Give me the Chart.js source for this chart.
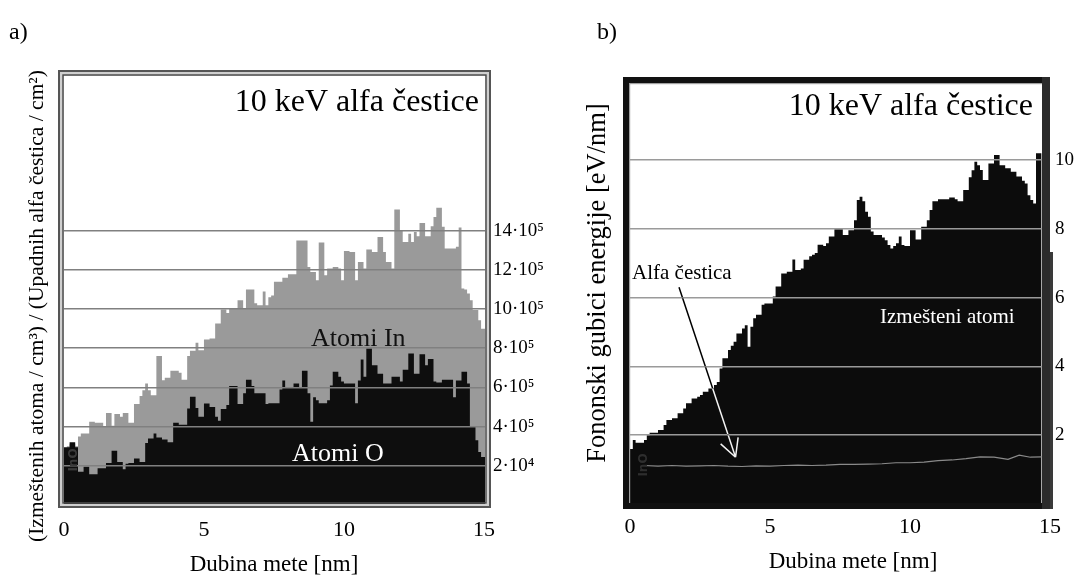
<!DOCTYPE html>
<html>
<head>
<meta charset="utf-8">
<script src="https://cdn.jsdelivr.net/npm/chart.js@4.4.1/dist/chart.umd.min.js"></script>
<style>
  html, body { margin: 0; padding: 0; background: #fff; }
  #wrap { position: relative; width: 1078px; height: 577px; overflow: hidden; }
  canvas { position: absolute; top: 0; }
  #cA { left: 0; }
  #cB { left: 560px; }
</style>
</head>
<body>
<div id="wrap">
  <canvas id="cA" width="560" height="577"></canvas>
  <canvas id="cB" width="518" height="577"></canvas>
</div>
<script>
// Depth histograms, bin width 0.1 nm, starting at 0 nm
const BIN = 0.1;

// a) displaced In atoms (x10^5), bins 0.0 ... 15.0 nm
const inAtoms = [
  3.3, 2.9, 3.0, 3.1, 3.1, 3.0, 3.5, 3.65, 3.65, 3.65,
  4.25, 4.25, 4.2, 4.2, 4.2, 4.0, 4.7, 4.7, 4.05, 4.64,
  4.64, 4.5, 4.7, 4.7, 4.2, 4.2, 5.15, 5.15, 5.56, 5.86,
  6.2, 5.86, 5.6, 5.6, 7.6, 7.6, 6.37, 6.5, 6.5, 6.85,
  6.85, 6.85, 6.75, 6.4, 6.4, 7.6, 7.87, 7.87, 8.28, 7.9,
  7.9, 8.45, 8.45, 8.5, 8.5, 9.27, 9.27, 9.98, 9.98, 9.8,
  10.0, 10.0, 10.0, 10.45, 10.45, 10.0, 11.0, 11.0, 11.0, 10.3,
  10.2, 10.2, 10.9, 10.2, 10.6, 10.7, 11.4, 11.4, 11.4, 11.6,
  11.6, 11.78, 11.78, 11.78, 13.5, 13.5, 13.5, 13.5, 12.15, 11.9,
  11.9, 11.47, 13.4, 13.4, 11.73, 12.07, 12.07, 12.15, 12.15, 12.07,
  11.47, 12.97, 12.97, 12.92, 12.92, 11.47, 12.4, 12.4, 12.07, 13.04,
  13.04, 12.92, 12.92, 13.68, 13.68, 12.92, 12.4, 12.4, 12.07, 15.08,
  15.08, 14.03, 13.43, 13.43, 13.85, 13.43, 13.94, 13.72, 14.4, 14.4,
  13.72, 13.72, 14.23, 14.7, 15.18, 15.18, 14.2, 13.09, 13.09, 13.09,
  13.09, 13.18, 14.16, 11.05, 11.0, 10.8, 10.45, 9.95, 9.95, 9.43,
  9.0
];

// a) displaced O atoms (x10^5)
const oAtoms = [
  2.3, 2.95, 2.95, 3.2, 3.2, 2.95, 1.7, 1.7, 1.95, 1.95,
  1.57, 1.57, 1.57, 1.87, 1.87, 1.87, 2.15, 2.15, 2.77, 2.77,
  2.2, 2.2, 1.83, 2.1, 2.15, 2.15, 2.37, 2.37, 2.2, 2.2,
  3.17, 3.4, 3.4, 3.65, 3.45, 3.45, 3.35, 3.35, 3.2, 3.2,
  4.2, 4.2, 4.1, 4.1, 4.1, 4.93, 5.52, 5.52, 4.95, 4.5,
  4.5, 5.18, 5.18, 5.0, 5.0, 4.5, 4.3, 4.9, 4.9, 5.1,
  6.07, 6.07, 6.07, 5.15, 5.15, 5.7, 6.4, 6.4, 6.07, 5.7,
  5.7, 5.7, 5.7, 5.15, 5.2, 5.2, 5.2, 5.2, 5.9, 6.35,
  6.0, 6.0, 6.0, 6.2, 6.2, 6.0, 6.85, 6.85, 5.7, 4.25,
  5.5, 5.35, 5.2, 5.2, 5.2, 5.35, 6.1, 6.8, 6.8, 6.55,
  6.3, 6.2, 6.2, 6.2, 6.2, 5.2, 6.35, 7.43, 6.55, 7.99,
  7.99, 7.13, 7.13, 6.7, 6.7, 6.2, 6.2, 6.2, 6.55, 6.55,
  6.55, 6.3, 6.9, 6.9, 7.73, 7.73, 6.7, 6.7, 7.7, 7.7,
  7.13, 7.45, 7.45, 6.3, 6.25, 6.25, 6.4, 6.4, 6.4, 6.4,
  5.5, 6.35, 6.35, 6.8, 6.8, 6.2, 4.0, 4.0, 3.3, 2.7,
  2.45
];

// b) phonon energy loss to displaced atoms [eV/nm], bins 0.0 ... 14.6 nm
const displacedLoss = [
  1.3, 1.6, 1.86, 1.78, 1.78, 1.78, 1.86, 2.0, 2.07, 2.07,
  2.07, 2.15, 2.15, 2.3, 2.44, 2.44, 2.49, 2.49, 2.64, 2.64,
  2.78, 2.93, 2.93, 3.07, 3.07, 3.12, 3.17, 3.26, 3.26, 3.36,
  3.36, 3.46, 3.55, 3.94, 4.24, 4.24, 4.48, 4.6, 4.72, 4.96,
  4.96, 5.1, 5.2, 4.57, 5.15, 5.4, 5.5, 5.5, 5.79, 5.83,
  5.83, 5.83, 6.03, 6.32, 6.32, 6.7, 6.7, 6.75, 6.75, 7.11,
  6.8, 6.8, 6.85, 7.1, 7.1, 7.2, 7.25, 7.3, 7.54, 7.54,
  7.5, 7.58, 7.78, 7.78, 7.99, 7.99, 7.99, 7.82, 7.82, 7.96,
  7.96, 8.25, 8.84, 8.93, 8.8, 8.5, 8.35, 7.92, 7.82, 7.82,
  7.82, 7.75, 7.67, 7.53, 7.43, 7.5, 7.58, 7.78, 7.53, 7.5,
  7.5, 7.96, 7.96, 7.69, 7.69, 8.06, 8.06, 8.25, 8.55, 8.8,
  8.8, 8.86, 8.86, 8.86, 8.86, 8.91, 8.91, 8.86, 8.8, 8.8,
  9.13, 9.13, 9.5, 9.7, 9.95, 9.85, 9.71, 9.42, 9.42, 9.9,
  9.9, 10.15, 10.15, 9.85, 9.85, 9.76, 9.76, 9.66, 9.66, 9.52,
  9.52, 9.4, 9.32, 8.98, 8.84, 8.74, 10.2
];

// b) phonon energy loss of the alpha particle itself [eV/nm]
const alphaDepth = [0.5, 1.0, 1.5, 2.0, 2.5, 3.0, 3.5, 4.0, 4.5, 5.0, 5.5, 6.0, 6.5, 7.0, 7.5,
                    8.0, 8.5, 9.0, 9.5, 10.0, 10.5, 11.0, 11.5, 12.0, 12.5, 13.0, 13.5, 13.9, 14.3, 14.7];
const alphaLoss  = [1.12, 1.1, 1.12, 1.1, 1.11, 1.12, 1.1, 1.09, 1.11, 1.1, 1.12, 1.13, 1.12, 1.13, 1.15,
                    1.15, 1.16, 1.17, 1.2, 1.2, 1.22, 1.26, 1.28, 1.32, 1.37, 1.36, 1.3, 1.42, 1.36, 1.37];

// Axis ticks
const xTicks = [0, 5, 10, 15];
const yTicksA = [2, 4, 6, 8, 10, 12, 14];
const yLabelsA = ['2·10⁴', '4·10⁵', '6·10⁵', '8·10⁵', '10·10⁵', '12·10⁵', '14·10⁵'];
const yTicksB = [2, 4, 6, 8, 10];
const yLabelsB = ['2', '4', '6', '8', '10'];

const SERIF = '"Liberation Serif", "Times New Roman", serif';
Chart.defaults.font.family = SERIF;
Chart.defaults.color = '#000';

// Step-histogram points: each bin holds its value from its left edge to the next one
function histogram(values) {
  const pts = values.map((v, i) => ({ x: i * BIN, y: v }));
  pts.push({ x: values.length * BIN, y: values[values.length - 1] });
  return pts;
}

function drawText(ctx, t) {
  ctx.save();
  ctx.font = (t.weight || 'normal') + ' ' + t.size + 'px ' + (t.family || SERIF);
  ctx.fillStyle = t.color || '#000';
  ctx.textAlign = t.align || 'left';
  ctx.textBaseline = t.baseline || 'alphabetic';
  ctx.translate(t.x, t.y);
  if (t.rot) ctx.rotate(t.rot * Math.PI / 180);
  ctx.fillText(t.text, 0, 0);
  ctx.restore();
}

// White paper, then frames, captions and the annotation arrow over the finished chart
function decorPlugin(cfg) {
  return {
    id: 'decor_' + cfg.name,
    beforeDraw(chart) {
      const ctx = chart.ctx;
      ctx.save();
      ctx.fillStyle = '#fff';
      ctx.fillRect(0, 0, chart.width, chart.height);
      ctx.restore();
    },
    afterDraw(chart) {
      const ctx = chart.ctx;
      ctx.save();
      cfg.frame(ctx);
      cfg.texts.forEach(t => drawText(ctx, t));
      if (cfg.arrow) {
        const xs = chart.scales.x, ys = chart.scales.y;
        const p0 = { x: xs.getPixelForValue(cfg.arrow.from[0]), y: ys.getPixelForValue(cfg.arrow.from[1]) };
        const p1 = { x: xs.getPixelForValue(cfg.arrow.to[0]), y: ys.getPixelForValue(cfg.arrow.to[1]) };
        const ang = Math.atan2(p0.y - p1.y, p0.x - p1.x);
        // inverted stroke: black over the paper, white over the filled area
        ctx.globalCompositeOperation = 'difference';
        ctx.strokeStyle = '#fff';
        ctx.lineWidth = 1.5;
        ctx.beginPath();
        ctx.moveTo(p0.x, p0.y);
        ctx.lineTo(p1.x, p1.y);
        [-0.52, 0.45].forEach(d => {
          ctx.moveTo(p1.x, p1.y);
          ctx.lineTo(p1.x + 20 * Math.cos(ang + d), p1.y + 20 * Math.sin(ang + d));
        });
        ctx.stroke();
      }
      ctx.restore();
    }
  };
}

function baseOptions(o) {
  return {
    responsive: false,
    animation: false,
    devicePixelRatio: 1,
    events: [],
    layout: { padding: { left: o.left, top: o.top, right: 0, bottom: 0 } },
    plugins: { legend: { display: false }, tooltip: { enabled: false } },
    scales: {
      x: {
        type: 'linear', min: 0, max: o.xMax,
        afterFit(s) { s.height = o.xAxisHeight; },
        afterBuildTicks(s) { s.ticks = xTicks.map(v => ({ value: v })); },
        grid: { display: false },
        border: { display: false },
        ticks: { autoSkip: false, maxRotation: 0, padding: o.xPad, color: '#000',
                 font: { size: 22 }, callback: v => String(v) }
      },
      y: {
        type: 'linear', position: 'right', min: 0, max: o.yMax,
        afterFit(s) { s.width = o.yAxisWidth; },
        afterBuildTicks(s) { s.ticks = o.yTicks.map(v => ({ value: v })); },
        grid: { color: o.gridColor, lineWidth: 1.6, drawTicks: false, z: 1 },
        border: { display: false },
        ticks: { autoSkip: false, padding: o.yPad, color: '#000', font: { size: 19 },
                 callback: v => o.yLabels[o.yTicks.indexOf(v)] }
      }
    }
  };
}

// ---------- a) displaced In and O atoms ----------
new Chart(document.getElementById('cA'), {
  type: 'line',
  data: {
    datasets: [
      { label: 'Atomi O', data: histogram(oAtoms), stepped: 'after', fill: 'origin',
        backgroundColor: '#0e0e0e', borderWidth: 0, pointRadius: 0 },
      { label: 'Atomi In', data: histogram(inAtoms), stepped: 'after', fill: 'origin',
        backgroundColor: '#9a9a9a', borderWidth: 0, pointRadius: 0 }
    ]
  },
  options: baseOptions({
    left: 64, top: 76, xMax: 15.04, yMax: 21.9, xAxisHeight: 72, yAxisWidth: 75,
    xPad: 4, yPad: 8, yTicks: yTicksA, yLabels: yLabelsA, gridColor: '#808080'
  }),
  plugins: [decorPlugin({
    name: 'a',
    frame(ctx) {
      ctx.lineWidth = 2;
      ctx.strokeStyle = '#555';
      ctx.strokeRect(59, 71, 431, 436);
      ctx.strokeStyle = '#cfcfcf';
      ctx.strokeRect(61, 73, 427, 432);
      ctx.lineWidth = 1.6;
      ctx.strokeStyle = '#4d4d4d';
      ctx.strokeRect(63, 75, 423, 428);
    },
    texts: [
      { text: 'a)', x: 9, y: 39, size: 24 },
      { text: '10 keV alfa čestice', x: 479, y: 111, size: 32, align: 'right' },
      { text: 'Atomi In', x: 311, y: 346, size: 26, color: '#111' },
      { text: 'Atomi O', x: 292, y: 461, size: 26, color: '#fff' },
      { text: 'InO', x: 74, y: 460, size: 12, weight: 'bold', family: '"DejaVu Sans", sans-serif',
        color: '#3a3a3a', rot: -90, align: 'center', baseline: 'middle' },
      { text: '(Izmeštenih atoma / cm³) / (Upadnih alfa čestica / cm²)', x: 37, y: 306, size: 21.5,
        rot: -90, align: 'center', baseline: 'middle' },
      { text: 'Dubina mete [nm]', x: 274, y: 571, size: 23, align: 'center' }
    ]
  })]
});

// ---------- b) phonon energy losses ----------
new Chart(document.getElementById('cB'), {
  type: 'line',
  data: {
    datasets: [
      { label: 'Alfa čestica', data: alphaDepth.map((d, i) => ({ x: d, y: alphaLoss[i] })),
        borderColor: '#8a8a8a', borderWidth: 1.2, pointRadius: 0, fill: false, tension: 0 },
      { label: 'Izmešteni atomi', data: histogram(displacedLoss), stepped: 'after', fill: 'origin',
        backgroundColor: '#0c0c0c', borderWidth: 0, pointRadius: 0 }
    ]
  },
  options: baseOptions({
    left: 70, top: 83, xMax: 15, yMax: 12.24, xAxisHeight: 73, yAxisWidth: 28,
    xPad: 2, yPad: 5, yTicks: yTicksB, yLabels: yLabelsB, gridColor: '#9a9a9a'
  }),
  plugins: [decorPlugin({
    name: 'b',
    frame(ctx) {
      ctx.fillStyle = '#111';
      ctx.fillRect(63, 77, 6, 432);
      ctx.fillRect(63, 77, 419, 6);
      ctx.fillRect(63, 503, 419, 6);
      ctx.fillStyle = '#2b2b2b';
      ctx.fillRect(482, 77, 8, 432);
      ctx.fillStyle = '#3a3a3a';
      ctx.fillRect(490, 252, 3, 257);
      ctx.fillStyle = '#a0a0a0';
      ctx.fillRect(69, 83, 1.2, 420);
      ctx.fillRect(69, 83, 413, 1.2);
    },
    texts: [
      { text: 'b)', x: 37, y: 39, size: 24 },
      { text: '10 keV alfa čestice', x: 473, y: 115, size: 32, align: 'right' },
      { text: 'Alfa čestica', x: 72, y: 279, size: 21 },
      { text: 'Izmešteni atomi', x: 320, y: 323, size: 21, color: '#fff' },
      { text: 'InO', x: 84, y: 465, size: 12, weight: 'bold', family: '"DejaVu Sans", sans-serif',
        color: '#2e2e2e', rot: -90, align: 'center', baseline: 'middle' },
      { text: 'Fononski gubici energije [eV/nm]', x: 38, y: 283, size: 26.5,
        rot: -90, align: 'center', baseline: 'middle' },
      { text: 'Dubina mete [nm]', x: 293, y: 568, size: 23, align: 'center' }
    ],
    arrow: { from: [1.75, 6.3], to: [3.77, 1.36] }
  })]
});
</script>
</body>
</html>
